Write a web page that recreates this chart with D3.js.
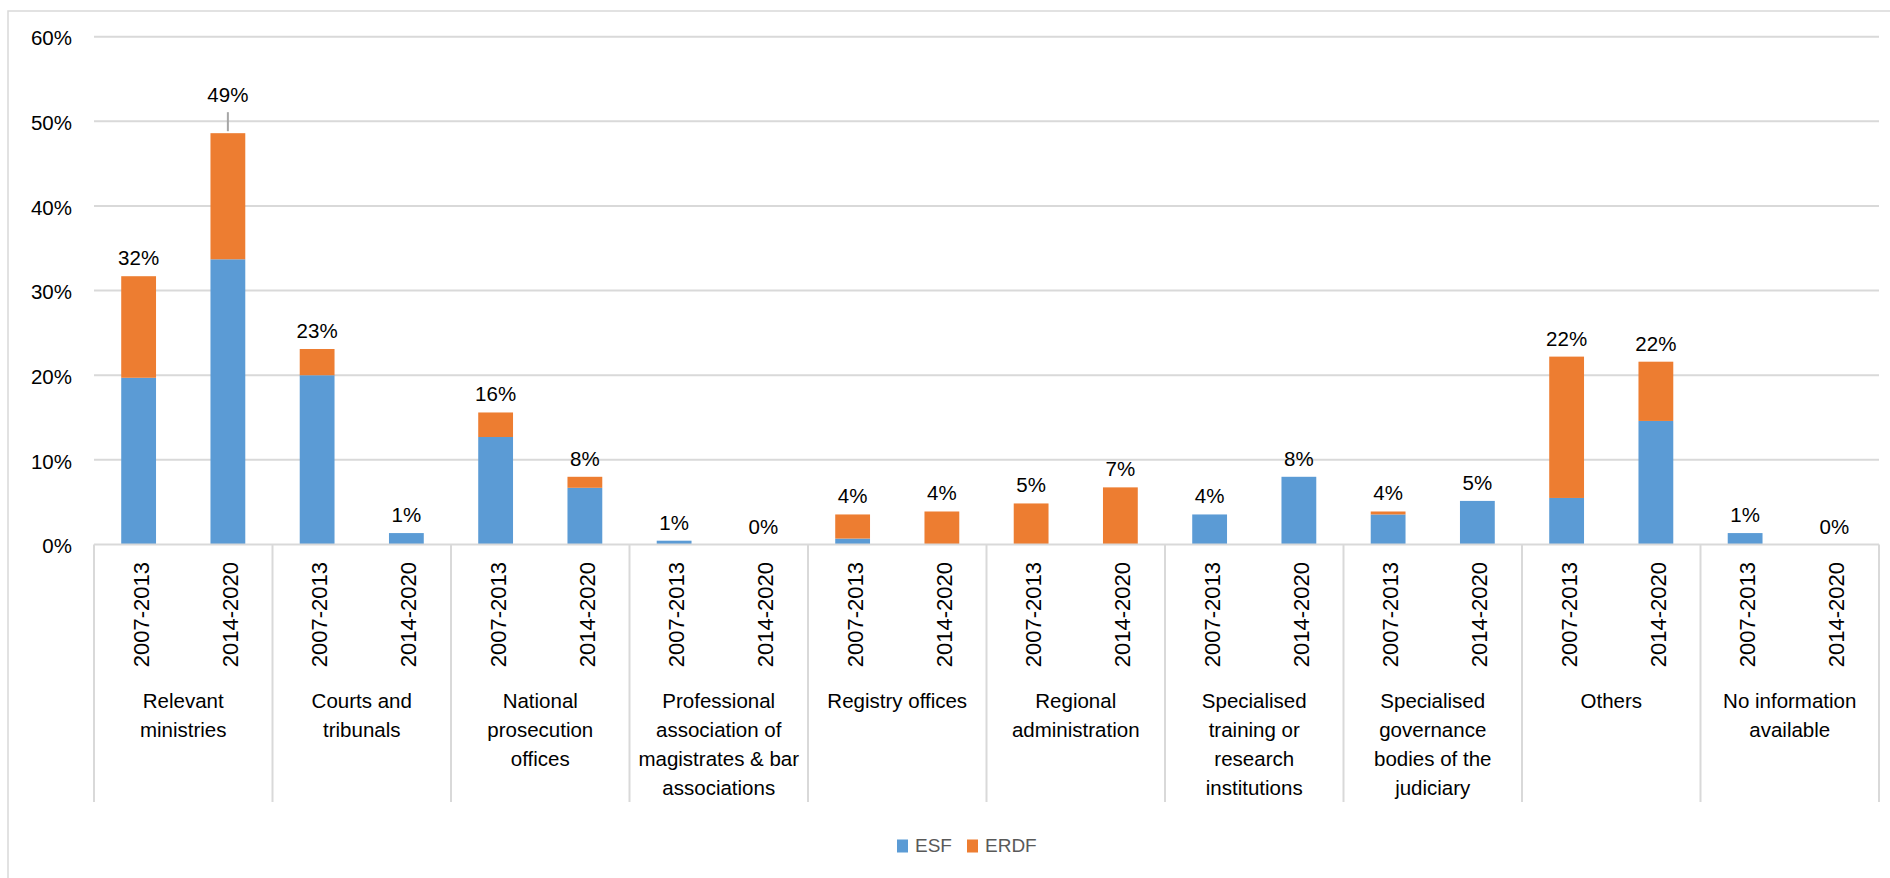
<!DOCTYPE html>
<html>
<head>
<meta charset="utf-8">
<script src="https://cdn.jsdelivr.net/npm/d3@7"></script>
<style>
  body { margin: 0; background: #fff; }
  svg text { font-family: "Liberation Sans", Arial, sans-serif; }
</style>
</head>
<body>
<div id="chart"></div>
<script>
// categories, line breaks as in the original
var categories = [
  "Relevant\nministries",
  "Courts and\ntribunals",
  "National\nprosecution\noffices",
  "Professional\nassociation of\nmagistrates & bar\nassociations",
  "Registry offices",
  "Regional\nadministration",
  "Specialised\ntraining or\nresearch\ninstitutions",
  "Specialised\ngovernance\nbodies of the\njudiciary",
  "Others",
  "No information\navailable"
];
var periods = ["2007-2013", "2014-2020"];
var seriesNames = ["ESF", "ERDF"];
var seriesColors = ["#5b9bd5", "#ed7d31"];

// values in %, order: cat0 2007, cat0 2014, cat1 2007, ...
var esfValues  = [19.7, 33.7, 20.0, 1.35, 12.7, 6.7, 0.45, 0, 0.7, 0, 0, 0, 3.55, 8.0, 3.55, 5.15, 5.5, 14.6, 1.35, 0];
var erdfValues = [12.0, 14.9, 3.1, 0, 2.9, 1.3, 0, 0, 2.85, 3.9, 4.85, 6.75, 0, 0, 0.35, 0, 16.7, 7.0, 0, 0];
var totalLabels = ["32%", "49%", "23%", "1%", "16%", "8%", "1%", "0%", "4%", "4%", "5%", "7%", "4%", "8%", "4%", "5%", "22%", "22%", "1%", "0%"];
var yTicks = [0, 10, 20, 30, 40, 50, 60];

var width = 1890, height = 878;

var svg = d3.select("#chart").append("svg")
  .attr("width", width)
  .attr("height", height);

// chart frame
svg.append("path")
  .attr("d", "M8,878 L8,11 L1890,11")
  .attr("fill", "none")
  .attr("stroke", "#d9d9d9")
  .attr("stroke-width", 1.5);

var x0 = d3.scaleBand()
  .domain(d3.range(categories.length))
  .range([94, 1879])
  .padding(0);

var x1 = d3.scaleBand()
  .domain(periods)
  .range([0, x0.bandwidth()])
  .padding(0);

var y = d3.scaleLinear()
  .domain([0, 60])
  .range([544.5, 36.7]);

var barW = x1.bandwidth() * 0.39;

// gridlines
svg.append("g").selectAll("line").data(yTicks.slice(1)).enter().append("line")
  .attr("x1", 94).attr("x2", 1879)
  .attr("y1", function(d) { return y(d); })
  .attr("y2", function(d) { return y(d); })
  .attr("stroke", "#d9d9d9")
  .attr("stroke-width", 2);

// y axis labels
var yAxis = d3.axisLeft(y)
  .tickValues(yTicks)
  .tickSize(0)
  .tickPadding(0)
  .tickFormat(function(d) { return d + "%"; });

svg.append("g")
  .attr("transform", "translate(72,0)")
  .call(yAxis)
  .call(function(g) { g.select(".domain").remove(); })
  .selectAll("text")
  .attr("font-size", "20.5px")
  .attr("font-family", "Liberation Sans, Arial, sans-serif")
  .attr("fill", "#000")
  .attr("dy", "0.4em");

// flatten data
var rows = [];
categories.forEach(function(c, ci) {
  periods.forEach(function(p, pi) {
    var k = ci * 2 + pi;
    rows.push({ ci: ci, period: p, esf: esfValues[k], erdf: erdfValues[k], label: totalLabels[k] });
  });
});

var stack = d3.stack().keys(["esf", "erdf"]);
var stacked = stack(rows);

var bars = svg.append("g");
stacked.forEach(function(layer, li) {
  bars.append("g")
    .attr("fill", seriesColors[li])
    .selectAll("rect").data(layer).enter().append("rect")
    .attr("x", function(d) { return x0(d.data.ci) + x1(d.data.period) + (x1.bandwidth() - barW) / 2; })
    .attr("y", function(d) { return y(d[1]); })
    .attr("width", barW)
    .attr("height", function(d) { return Math.max(0, y(d[0]) - y(d[1])); });
});

// data labels (the 49% one was pulled up with a leader line)
var lifted = { 1: true };
var lab = svg.append("g");
rows.forEach(function(d, i) {
  var cx = x0(d.ci) + x1(d.period) + x1.bandwidth() / 2;
  var top = y(d.esf + d.erdf);
  var base = lifted[i] ? top - 31 : top - 11;
  lab.append("text")
    .attr("x", cx)
    .attr("y", base)
    .attr("text-anchor", "middle")
    .attr("font-size", "20.5px")
    .attr("fill", "#000")
    .text(d.label);
  if (lifted[i]) {
    lab.append("line")
      .attr("x1", cx).attr("x2", cx)
      .attr("y1", base + 10).attr("y2", top - 2)
      .attr("stroke", "#a6a6a6")
      .attr("stroke-width", 2);
  }
});

// baseline and category separators
var axisG = svg.append("g");
axisG.append("line")
  .attr("x1", 94).attr("x2", 1879)
  .attr("y1", y(0)).attr("y2", y(0))
  .attr("stroke", "#d9d9d9").attr("stroke-width", 2);
axisG.selectAll(".sep").data(d3.range(categories.length + 1)).enter().append("line")
  .attr("class", "sep")
  .attr("x1", function(d) { return d < categories.length ? x0(d) : 1879; })
  .attr("x2", function(d) { return d < categories.length ? x0(d) : 1879; })
  .attr("y1", y(0)).attr("y2", 802)
  .attr("stroke", "#d9d9d9").attr("stroke-width", 2);

// period labels (rotated)
rows.forEach(function(d) {
  var cx = x0(d.ci) + x1(d.period) + x1.bandwidth() / 2 + 2;
  axisG.append("text")
    .attr("transform", "translate(" + cx + ",562) rotate(-90)")
    .attr("text-anchor", "end")
    .attr("dy", "0.36em")
    .attr("font-size", "22px")
    .attr("fill", "#000")
    .text(d.period);
});

// category labels
categories.forEach(function(c, ci) {
  var t = axisG.append("text")
    .attr("text-anchor", "middle")
    .attr("font-size", "20.5px")
    .attr("fill", "#000");
  c.split("\n").forEach(function(line, li) {
    t.append("tspan")
      .attr("x", x0(ci) + x0.bandwidth() / 2)
      .attr("y", 708 + li * 29)
      .text(line);
  });
});

// legend
var legend = svg.append("g");
var legendX = [897, 967];
seriesNames.forEach(function(s, i) {
  legend.append("rect")
    .attr("x", legendX[i]).attr("y", 839.5)
    .attr("width", 11).attr("height", 13)
    .attr("fill", seriesColors[i]);
  legend.append("text")
    .attr("x", legendX[i] + 18).attr("y", 852)
    .attr("font-size", "19px")
    .attr("fill", "#595959")
    .text(s);
});
</script>
</body>
</html>
